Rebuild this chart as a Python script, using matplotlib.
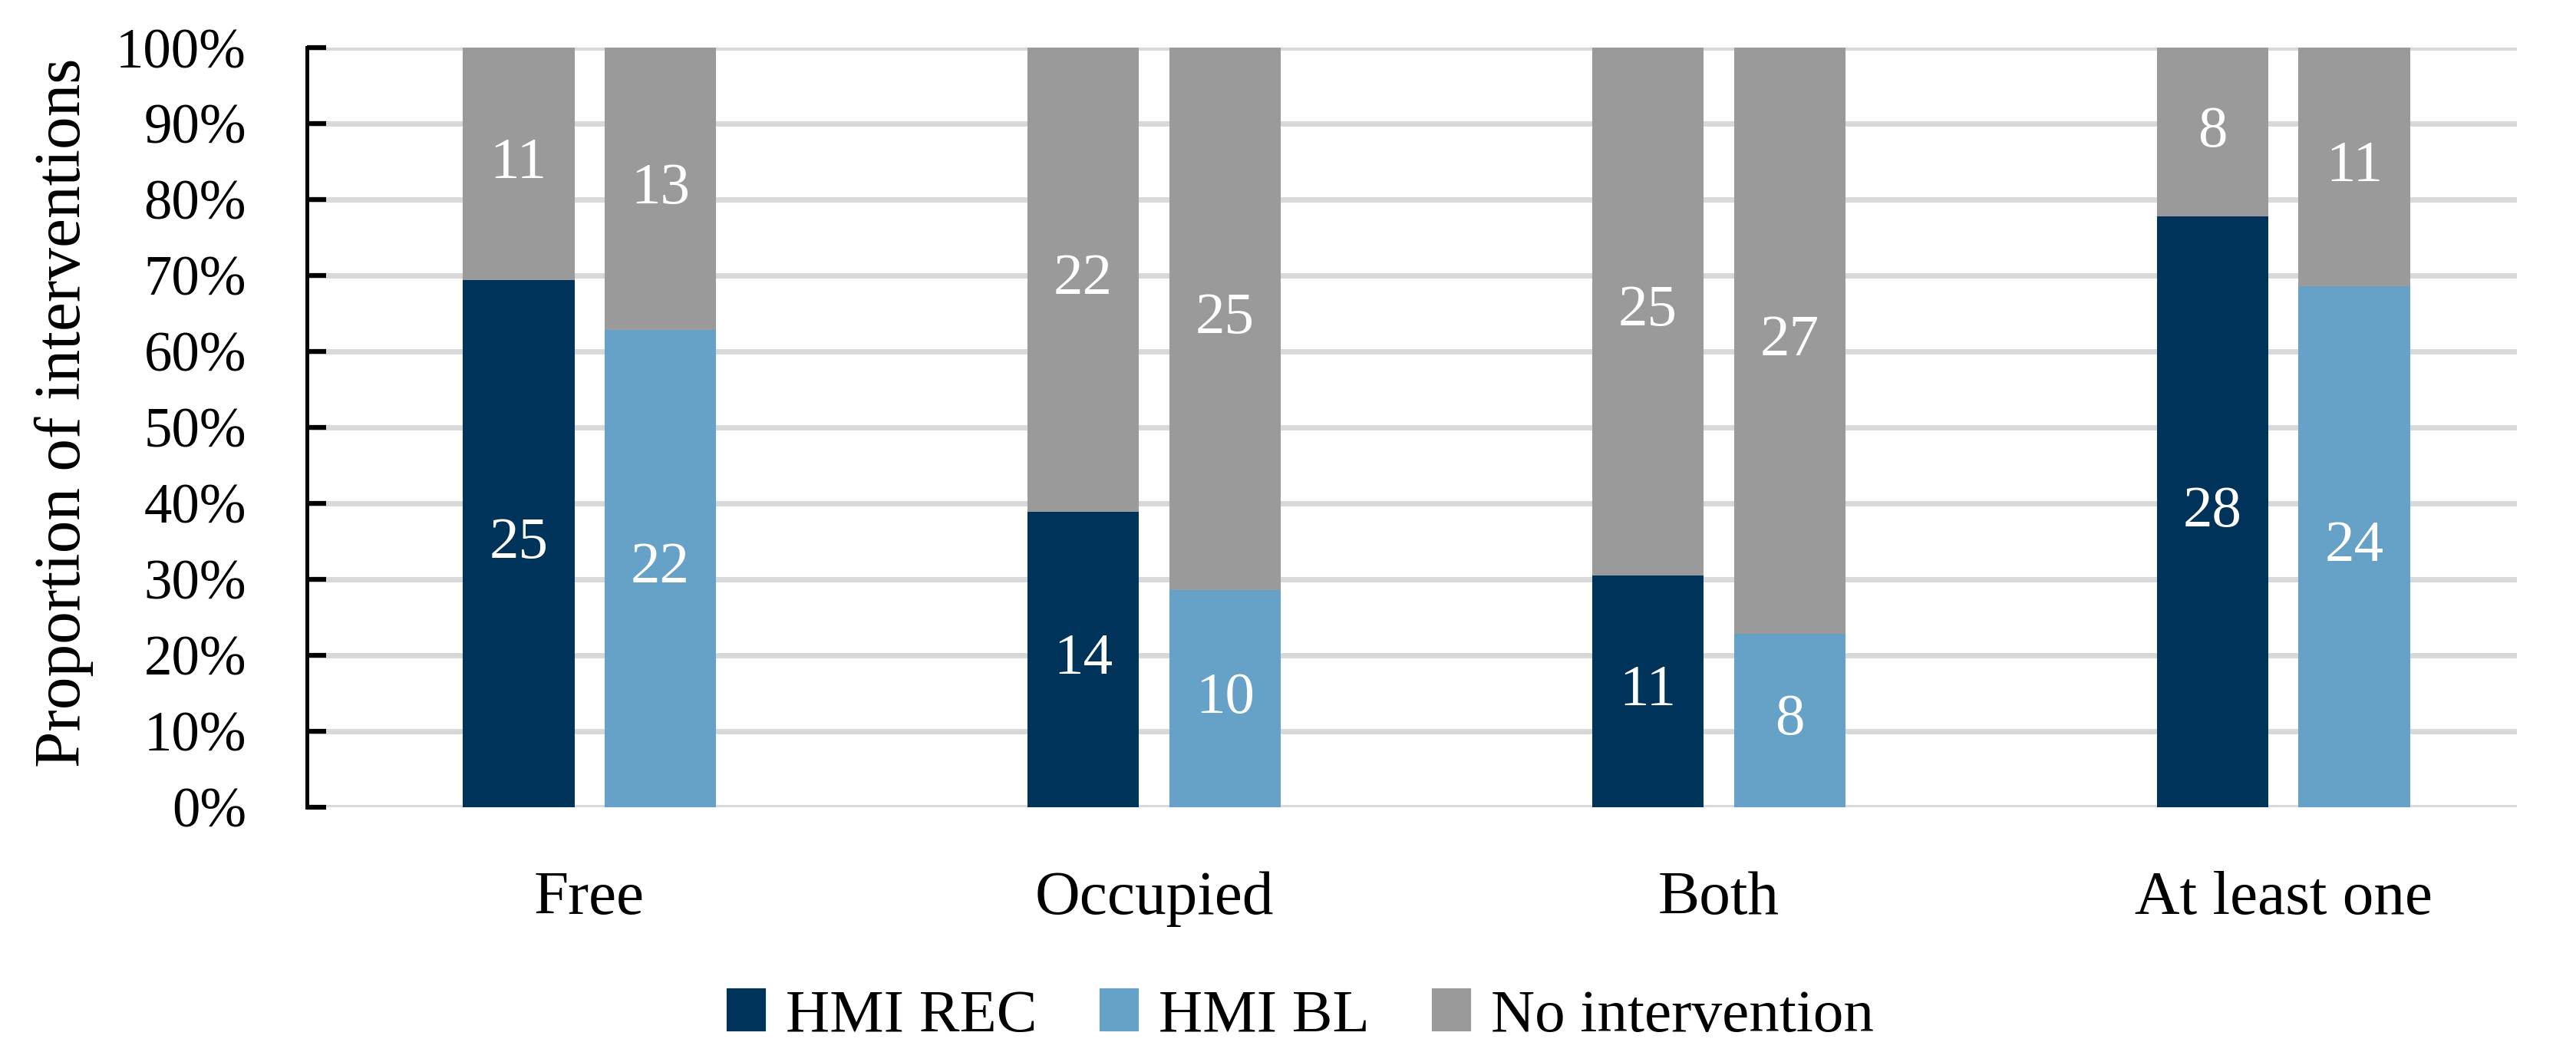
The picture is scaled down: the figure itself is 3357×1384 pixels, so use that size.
import numpy as np
import matplotlib
matplotlib.use('Agg')
import matplotlib.pyplot as plt

plt.rcParams['font.family'] = ['Liberation Serif', 'DejaVu Serif']

# counts per condition
categories = ['Free', 'Occupied', 'Both', 'At least one']
rec_yes = [25, 14, 11, 28]
rec_no = [11, 22, 25, 8]
bl_yes = [22, 10, 8, 24]
bl_no = [13, 25, 27, 11]

c_rec = '#00335A'
c_bl = '#66A1C8'
c_no = '#9A9A9A'
fs = 17.5      # tick labels and numbers
fs_txt = 19.5  # words

fig = plt.figure(figsize=(3357/300, 1384/300), dpi=300)
ax = fig.add_axes([0.1192, 0.2399, 0.977-0.1192, 0.955-0.2399])

x = np.arange(len(categories))
w = 0.198
off = 0.1256

for yes, no, shift, col in [(rec_yes, rec_no, -off, c_rec), (bl_yes, bl_no, off, c_bl)]:
    yes = np.array(yes, dtype=float)
    no = np.array(no, dtype=float)
    tot = yes + no
    p_yes = yes / tot
    p_no = no / tot
    ax.bar(x + shift, p_yes, w, color=col, zorder=3)
    ax.bar(x + shift, p_no, w, bottom=p_yes, color=c_no, zorder=3)
    for i in range(len(x)):
        ax.text(x[i] + shift, p_yes[i] / 2, f'{int(yes[i])}', ha='center', va='center',
                color='white', fontsize=fs + 1, zorder=4)
        ax.text(x[i] + shift, p_yes[i] + p_no[i] / 2, f'{int(no[i])}', ha='center', va='center',
                color='white', fontsize=fs + 1, zorder=4)

ax.set_xlim(-0.5, 3.413)
ax.set_ylim(0, 1)
ax.set_yticks(np.arange(0, 1.01, 0.1))
ax.set_yticklabels([f'{int(round(v*100))}%' for v in np.arange(0, 1.01, 0.1)], fontsize=fs)
ax.set_xticks(x)
ax.set_xticklabels(categories, fontsize=fs_txt)
ax.tick_params(axis='x', length=0, pad=20)
ax.tick_params(axis='y', direction='in', length=6, width=1.5, pad=19)
ax.grid(axis='y', color='#D9D9D9', linewidth=1.7, zorder=0)
for s in ['top', 'right', 'bottom']:
    ax.spines[s].set_visible(False)
ax.spines['left'].set_linewidth(1.2)
ax.spines['left'].set_zorder(5)

ax.set_ylabel('Proportion of interventions', fontsize=20.5)
ax.yaxis.set_label_coords(-0.0965, 0.52)

handles = [plt.Rectangle((0, 0), 1, 1, color=c) for c in (c_rec, c_bl, c_no)]
fig.legend(handles, ['HMI REC', 'HMI BL', 'No intervention'], loc='center',
           bbox_to_anchor=(0.505, 1 - 1325/1384), ncol=3, frameon=False, fontsize=19,
           handlelength=0.6, handleheight=0.62, handletextpad=0.35, columnspacing=1.05)

fig.savefig('out.png', dpi=300)
